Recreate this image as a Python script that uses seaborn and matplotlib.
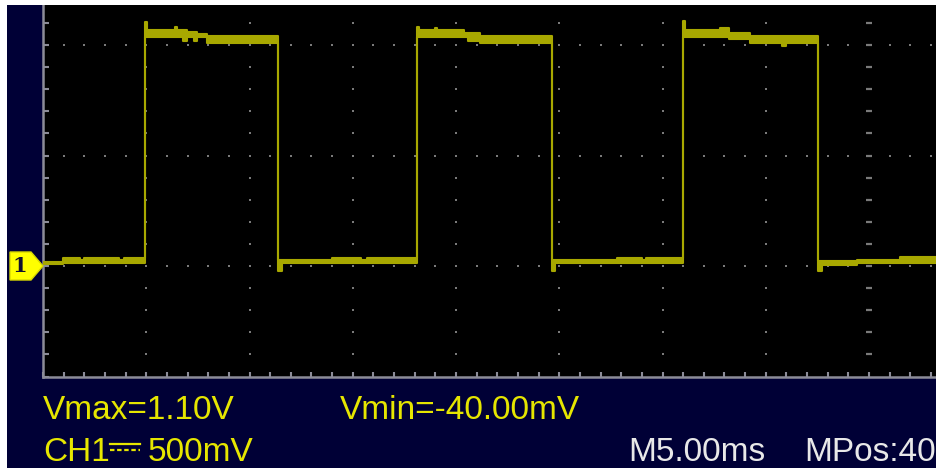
import numpy as np
import pandas as pd
import matplotlib
matplotlib.use("Agg")
import matplotlib.pyplot as plt
from matplotlib.patches import Polygon, Rectangle
from matplotlib.lines import Line2D
import seaborn as sns

# --- trace envelope (time in ms from left edge, volts) ---
t_ms = [0.00, 0.97, 1.80, 2.00, 3.70, 3.90,
        4.94, 5.05, 6.39, 6.50, 6.80, 6.95, 7.30, 7.45, 7.94,
        11.38, 11.55, 14.00, 15.40, 15.70,
        18.11, 18.20, 19.00, 19.10, 20.40, 20.60, 21.16,
        24.65, 24.80, 27.80, 29.00, 29.20,
        30.99, 31.10, 32.60, 32.80, 33.20, 34.24, 35.80, 36.00,
        37.53, 37.70, 39.40, 41.50, 43.29]
v_upper = [0.018, 0.036, 0.027, 0.036, 0.027, 0.036,
           1.104, 1.068, 1.081, 1.068, 1.068, 1.060, 1.060, 1.050, 1.041,
           0.027, 0.027, 0.036, 0.027, 0.036,
           1.081, 1.068, 1.077, 1.068, 1.054, 1.054, 1.041,
           0.027, 0.027, 0.036, 0.027, 0.036,
           1.108, 1.068, 1.068, 1.077, 1.054, 1.041, 1.041, 1.041,
           0.023, 0.023, 0.027, 0.040, 0.040]
v_lower = [0.009, 0.014, 0.014, 0.014, 0.014, 0.014,
           1.036, 1.036, 1.036, 1.036, 1.018, 1.036, 1.018, 1.036, 1.009,
           -0.023, 0.014, 0.014, 0.014, 0.014,
           1.036, 1.036, 1.036, 1.036, 1.036, 1.018, 1.009,
           -0.023, 0.014, 0.014, 0.014, 0.014,
           1.036, 1.036, 1.036, 1.036, 1.027, 1.009, 0.995, 1.009,
           -0.023, 0.005, 0.014, 0.014, 0.014]

# graticule
major_v = [0.0, 0.5, 1.0]              # dotted horizontal lines (V)
major_t = [5, 10, 15, 20, 25, 30, 35]  # dotted vertical lines (ms)
center_t = 40                          # centre line with tick marks

yellow = "#e6e600"
white = "#e8e8e8"
readouts = [
    ("Vmax=1.10V", 43, 419, yellow),
    ("Vmin=-40.00mV", 340, 419, yellow),
    ("CH1", 43, 461, yellow),
    ("500mV", 148, 461, yellow),
    ("M5.00ms", 628, 461, white),
    ("MPos:40", 804, 461, white),
]

trace_col = "#a8a800"
grid_col = "#7a7a7a"
navy = "#000036"

W, H = 937, 468
fig = plt.figure(figsize=(W / 100, H / 100), dpi=100, facecolor=navy)
ax = fig.add_axes([43 / W, (H - 376.5) / H, 1 - 43 / W, (376.5 - 5) / H])
ax.set_facecolor("black")

xmax, ymin, ymax = 43.29, -0.5, 1.181

# dotted graticule
gx, gy = [], []
for v in major_v:
    for t in np.arange(1, 44, 1.0):
        gx.append(t); gy.append(v)
for t in major_t:
    for v in np.arange(-0.4, 1.19, 0.1):
        gx.append(t); gy.append(v)
ax.scatter(gx, gy, s=2.8, marker="s", color=grid_col, linewidths=0, zorder=1)
cv = np.arange(-0.4, 1.19, 0.1)
ax.scatter([center_t] * len(cv), cv, s=16, marker="_", color=grid_col,
           linewidths=1.6, zorder=1)

# trace
df = pd.DataFrame({"t": t_ms, "up": v_upper, "lo": v_lower})
ax.fill_between(df["t"], df["lo"], df["up"], step="post", color=trace_col,
                linewidth=0, zorder=2)
sns.lineplot(data=df, x="t", y="up", drawstyle="steps-post", estimator=None,
             color=trace_col, linewidth=1.5, ax=ax, zorder=3)
sns.lineplot(data=df, x="t", y="lo", drawstyle="steps-post", estimator=None,
             color=trace_col, linewidth=1.5, ax=ax, zorder=3)

ax.set_xlim(0, xmax)
ax.set_ylim(ymin, ymax)
ax.set_xlabel("")
ax.set_ylabel("")
ax.set_xticks(np.arange(0, 44, 1.0))
ax.set_yticks(np.arange(-0.5, 1.19, 0.1))
ax.tick_params(axis="both", direction="in", color="#8c8c98", width=1.5,
               labelleft=False, labelbottom=False)
ax.tick_params(axis="y", length=4.5)
ax.tick_params(axis="x", length=3.5)
for side in ["top", "right"]:
    ax.spines[side].set_visible(False)
for side in ["left", "bottom"]:
    ax.spines[side].set_color("#8c8c98")
    ax.spines[side].set_linewidth(1.8)

# white frame remnants on left and top
fig.patches.append(Rectangle((0, 0), 7 / W, 1, transform=fig.transFigure,
                             facecolor="white", edgecolor="none", zorder=0))
fig.patches.append(Rectangle((0, 1 - 5 / H), 1, 5 / H, transform=fig.transFigure,
                             facecolor="white", edgecolor="none", zorder=0))

# channel 1 ground marker
pts = [(10, 252), (31, 252), (43, 266), (31, 280), (10, 280)]
fig.patches.append(Polygon([(x / W, 1 - y / H) for x, y in pts], closed=True,
                           transform=fig.transFigure, facecolor="#ffff00",
                           edgecolor="#d8d800", linewidth=1, zorder=5))
fig.text(20 / W, 1 - 266 / H, "1", family="DejaVu Serif", weight="bold",
         fontsize=15, color="#101030", ha="center", va="center", zorder=6)

for txt, x, y, col in readouts:
    fig.text(x / W, 1 - y / H, txt, family=["Liberation Sans", "DejaVu Sans"],
             fontsize=24, color=col, ha="left", va="baseline")

# DC coupling sign (solid over dashed), no installed font has the glyph
fig.lines.append(Line2D([110 / W, 140 / W], [1 - 444 / H, 1 - 444 / H],
                        transform=fig.transFigure, color=yellow, linewidth=1.6))
fig.lines.append(Line2D([110 / W, 140 / W], [1 - 450 / H, 1 - 450 / H],
                        transform=fig.transFigure, color=yellow, linewidth=1.6,
                        linestyle=(0, (2, 1.2))))

fig.savefig("out.png", dpi=100, facecolor=navy)
